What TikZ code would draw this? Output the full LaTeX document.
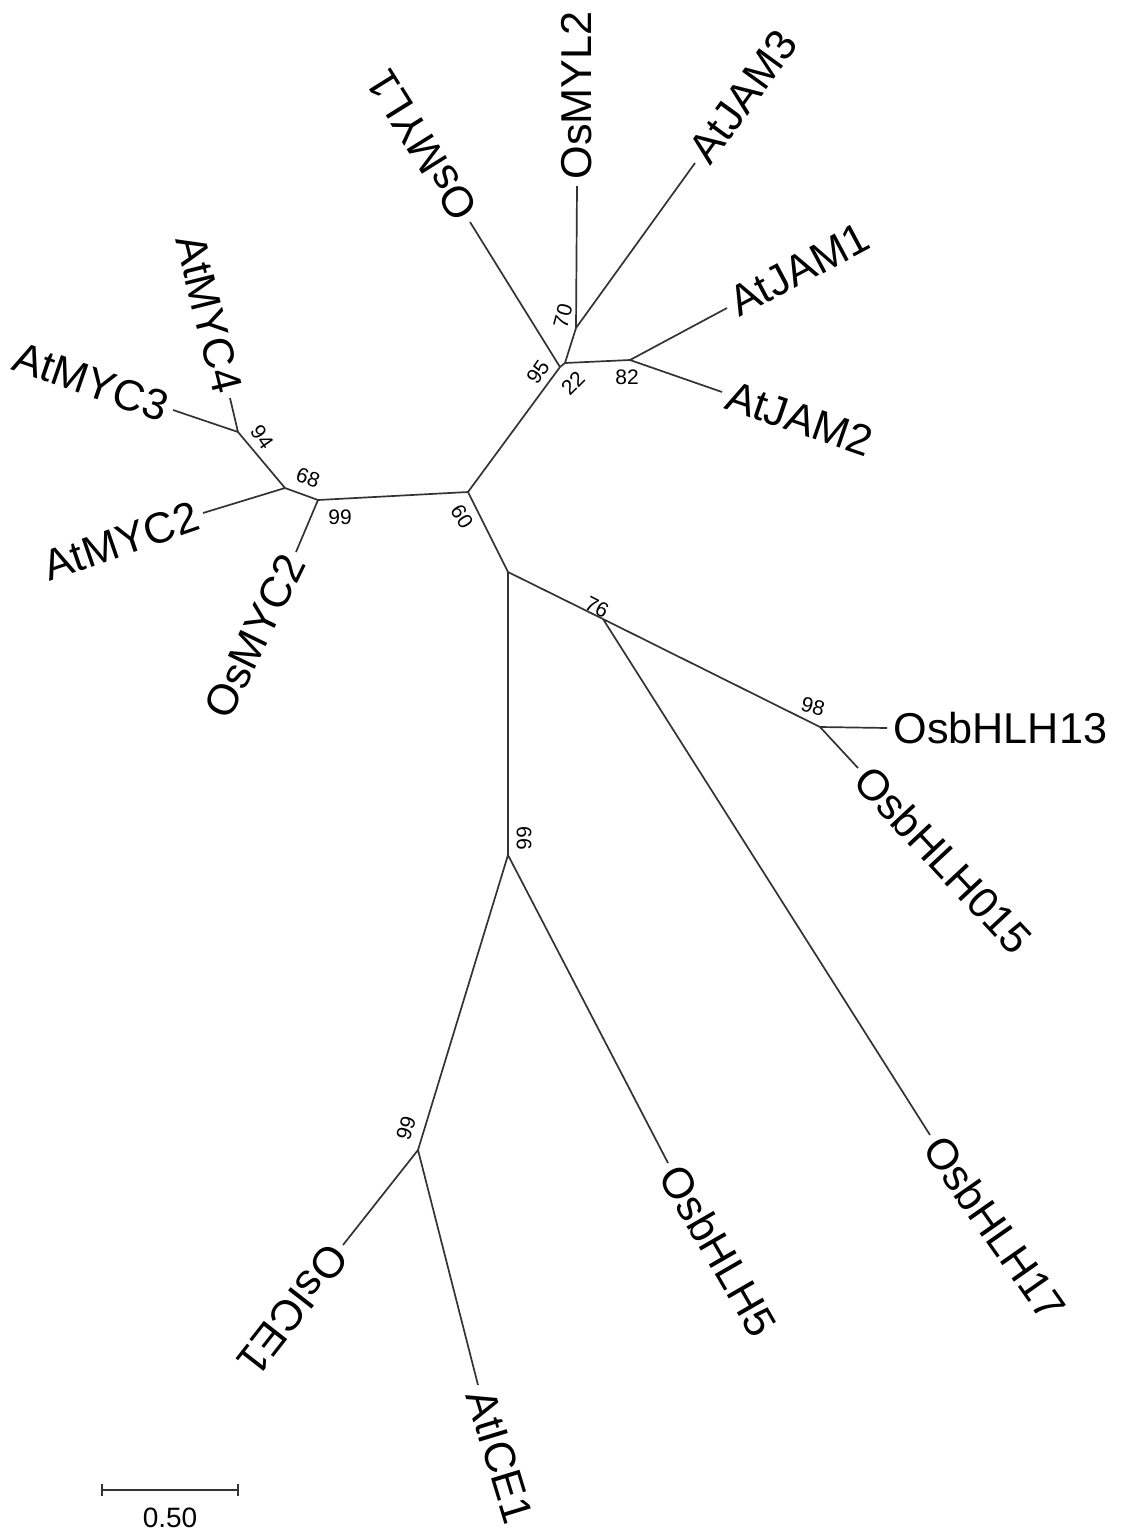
\documentclass[tikz,border=0pt]{standalone}
\usepackage{fontspec}
\setmainfont{Liberation Sans}
\usetikzlibrary{arrows, calc}

\begin{document}
\begin{tikzpicture}[x=0.5pt, y=-0.5pt,
    edge/.style={draw=black!80, line width=0.85pt},
    leaf/.style={font=\fontsize{21.6}{25}\selectfont, inner sep=3pt},
    boot/.style={font=\fontsize{10.5}{12}\selectfont, inner sep=0pt}]
    \useasboundingbox (0,0) rectangle (1122,1537);
    % inner nodes
    \coordinate (n60) at (468,492);
    \coordinate (n99a) at (318,500);
    \coordinate (n68) at (285,488);
    \coordinate (n94) at (238,432);
    \coordinate (n95) at (560,367);
    \coordinate (n22) at (565,363);
    \coordinate (n70) at (576,328);
    \coordinate (n82) at (630,360);
    \coordinate (nlow) at (508,572);
    \coordinate (n76) at (603,619);
    \coordinate (n98) at (820,727);
    \coordinate (n66) at (508,855);
    \coordinate (n99b) at (418,1150);
    % leaves
    \coordinate (myc4) at (230,398);
    \coordinate (myc3) at (173,410);
    \coordinate (myc2) at (203,513);
    \coordinate (osmyc2) at (296,552);
    \coordinate (myl1) at (470,222);
    \coordinate (myl2) at (577,186);
    \coordinate (jam3) at (695,163);
    \coordinate (jam1) at (727,308);
    \coordinate (jam2) at (722,392);
    \coordinate (hlh13) at (887,728);
    \coordinate (hlh015) at (858,768);
    \coordinate (hlh17) at (930,1135);
    \coordinate (hlh5) at (668,1163);
    \coordinate (osice1) at (343,1245);
    \coordinate (atice1) at (478,1385);

    % branches
    \draw[edge] (n60) -- (n99a) (n60) -- (n95) (n60) -- (nlow);
    \draw[edge] (n99a) -- (n68) (n99a) -- (osmyc2);
    \draw[edge] (n68) -- (n94) (n68) -- (myc2);
    \draw[edge] (n94) -- (myc4) (n94) -- (myc3);
    \draw[edge] (n95) -- (myl1) (n95) -- (n22);
    \draw[edge] (n22) -- (n70) (n22) -- (n82);
    \draw[edge] (n70) -- (myl2) (n70) -- (jam3);
    \draw[edge] (n82) -- (jam1) (n82) -- (jam2);
    \draw[edge] (nlow) -- (n76) (nlow) -- (n66);
    \draw[edge] (n76) -- (n98) (n76) -- (hlh17);
    \draw[edge] (n98) -- (hlh13) (n98) -- (hlh015);
    \draw[edge] (n66) -- (hlh5) (n66) -- (n99b);
    \draw[edge] (n99b) -- (osice1) (n99b) -- (atice1);

    % leaf names
    \node[leaf, anchor=east, rotate=-76] (tmyc4) at (myc4) {AtMYC4};
    \node[leaf, anchor=east, rotate=-19] (tmyc3) at (myc3) {AtMYC3};
    \node[leaf, anchor=east, rotate=19] (tmyc2) at (myc2) {AtMYC2};
    \node[leaf, anchor=east, rotate=64] (tosmyc2) at (osmyc2) {OsMYC2};
    \node[leaf, anchor=west, rotate=122] (tmyl1) at (myl1) {OsMYL1};
    \node[leaf, anchor=west, rotate=90] (tmyl2) at (myl2) {OsMYL2};
    \node[leaf, anchor=west, rotate=54] (tjam3) at (jam3) {AtJAM3};
    \node[leaf, anchor=west, rotate=28] (tjam1) at (jam1) {AtJAM1};
    \node[leaf, anchor=west, rotate=-19] (tjam2) at (jam2) {AtJAM2};
    \node[leaf, anchor=west] (thlh13) at (hlh13) {OsbHLH13};
    \node[leaf, anchor=west, rotate=-47] (thlh015) at (hlh015) {OsbHLH015};
    \node[leaf, anchor=west, rotate=-55] (thlh17) at (hlh17) {OsbHLH17};
    \node[leaf, anchor=west, rotate=-60] (thlh5) at (hlh5) {OsbHLH5};
    \node[leaf, anchor=west, rotate=232] (tosice1) at (osice1) {OsICE1};
    \node[leaf, anchor=west, rotate=-73] (tatice1) at (atice1) {AtICE1};

    % bootstrap values
    \node[boot, rotate=-58] (b60) at (462,517) {60};
    \node[boot] (b99a) at (340,517) {99};
    \node[boot, rotate=-20] (b68) at (308,478) {68};
    \node[boot, rotate=-55] (b94) at (262,437) {94};
    \node[boot, rotate=55] (b95) at (538,372) {95};
    \node[boot, rotate=45] (b22) at (573,383) {22};
    \node[boot, rotate=75] (b70) at (563,316) {70};
    \node[boot] (b82) at (627,377) {82};
    \node[boot, rotate=-27] (b76) at (597,607) {76};
    \node[boot, rotate=-15] (b98) at (813,707) {98};
    \node[boot, rotate=-90] (b66) at (524,838) {66};
    \node[boot, rotate=72] (b99b) at (406,1128) {99};

    % scale bar
    \coordinate (sb1) at (102,1490);
    \coordinate (sb2) at (238,1490);
    \draw[edge] (sb1) -- (sb2);
    \draw[edge] ($(sb1)+(0,-6)$) -- ($(sb1)+(0,6)$);
    \draw[edge] ($(sb2)+(0,-6)$) -- ($(sb2)+(0,6)$);
    \node[font=\fontsize{14}{16}\selectfont] (sblab) at (170,1518) {0.50};
\end{tikzpicture}
\end{document}
